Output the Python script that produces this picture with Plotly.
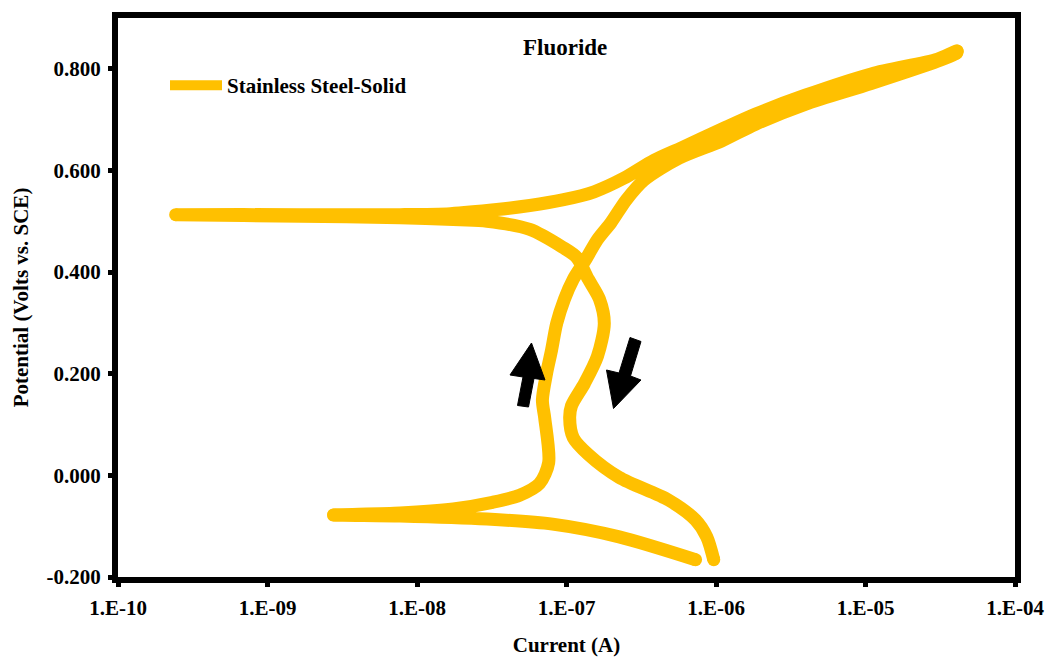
import plotly.graph_objects as go

# ---- data ----
fwd_current = [7.3e-7, 2.25e-7, 8.07e-8, 2.94e-8, 7.7e-9, 2.77e-9, 7.7e-9, 1.75e-8, 3.2e-8,
               4.86e-8, 6.6e-8, 7.6e-8, 7.15e-8, 6.9e-8, 7.36e-8, 7.94e-8, 8.6e-8, 9.7e-8,
               1.11e-7, 1.32e-7, 1.61e-7, 1.99e-7, 2.51e-7, 3.30e-7, 5.65e-7, 1.09e-6,
               1.84e-6, 3.95e-6, 1.09e-5, 3.03e-5, 4.06e-5]
fwd_potential = [-0.166, -0.121, -0.096, -0.086, -0.080, -0.078, -0.074, -0.066, -0.053,
                 -0.039, -0.016, 0.025, 0.113, 0.148, 0.201, 0.246, 0.299, 0.347,
                 0.386, 0.421, 0.464, 0.498, 0.542, 0.581, 0.624, 0.658,
                 0.691, 0.730, 0.771, 0.815, 0.831]

rev_current = [4.1e-5, 3.03e-5, 1.09e-5, 3.95e-6, 1.84e-6, 1.09e-6, 5.92e-7, 3.85e-7, 2.43e-7,
               1.53e-7, 9.4e-8, 5.68e-8, 3.42e-8, 1.67e-8, 7.7e-9, 1.67e-9, 2.43e-10, 1.67e-9,
               7.7e-9, 1.94e-8, 2.94e-8, 5.68e-8, 9.4e-8, 1.17e-7, 1.40e-7, 1.66e-7, 1.79e-7,
               1.61e-7, 1.32e-7, 1.08e-7, 1.05e-7, 1.11e-7, 1.40e-7, 2.25e-7, 4.84e-7, 7.3e-7,
               8.67e-7, 9.66e-7]
rev_potential = [0.835, 0.819, 0.790, 0.748, 0.711, 0.681, 0.645, 0.620, 0.585,
                 0.558, 0.542, 0.531, 0.523, 0.515, 0.513, 0.513, 0.513, 0.510,
                 0.507, 0.503, 0.500, 0.484, 0.449, 0.429, 0.386, 0.347, 0.299,
                 0.234, 0.181, 0.137, 0.113, 0.074, 0.041, -0.004, -0.049, -0.088,
                 -0.121, -0.166]

x_tickvals = [1e-10, 1e-9, 1e-8, 1e-7, 1e-6, 1e-5, 1e-4]
x_ticktext = ["1.E-10", "1.E-09", "1.E-08", "1.E-07", "1.E-06", "1.E-05", "1.E-04"]
y_tickvals = [-0.2, 0.0, 0.2, 0.4, 0.6, 0.8]
y_ticktext = ["-0.200", "0.000", "0.200", "0.400", "0.600", "0.800"]

GOLD = "#FFC000"
FONT = "Liberation Serif"

W, H = 1049, 657
ML, MR, MT, MB = 118, 34, 18, 80

current = fwd_current + rev_current
potential = fwd_potential + rev_potential

fig = go.Figure()
fig.add_trace(go.Scatter(x=current, y=potential, mode="lines",
                         line=dict(color=GOLD, width=13, shape="spline", smoothing=0.8),
                         name="Stainless Steel-Solid"))
# round caps at the turning points
nf = len(fwd_current)
tip_idx = [0, 5, nf - 1, nf, nf + 16, len(current) - 1]
fig.add_trace(go.Scatter(x=[current[i] for i in tip_idx], y=[potential[i] for i in tip_idx],
                         mode="markers", marker=dict(color=GOLD, size=13), showlegend=False,
                         hoverinfo="skip"))

pw, ph = W - ML - MR, H - MT - MB


def to_paper(pts):
    return [((x - ML) / pw, (H - MB - y) / ph) for x, y in pts]


def path_of(pts):
    p = to_paper(pts)
    return "M " + " L ".join(f"{a:.5f},{b:.5f}" for a, b in p) + " Z"


up_arrow = [(531.5, 343), (545, 380), (534, 378.5), (528.5, 407), (517.5, 405.5), (523, 377), (510, 375)]
down_arrow = [(630, 337.5), (641, 341.5), (630.5, 376), (641, 380), (613.5, 408.5), (606.5, 370), (619, 373)]
shapes = []
for arr in (up_arrow, down_arrow):
    shapes.append(dict(type="path", xref="paper", yref="paper", path=path_of(arr),
                       fillcolor="black", line=dict(color="black", width=1)))

fig.update_layout(
    width=W, height=H,
    margin=dict(l=ML, r=MR, t=MT, b=MB, autoexpand=False),
    paper_bgcolor="white", plot_bgcolor="white",
    font=dict(family=FONT, color="black", size=21),
    shapes=shapes,
    showlegend=True,
    legend=dict(x=(165 - ML) / pw, y=(H - MB - 65) / ph, xanchor="left", yanchor="top",
                bgcolor="rgba(0,0,0,0)", itemwidth=52,
                font=dict(family=FONT, size=21, color="black", weight="bold")),
    annotations=[dict(text="Fluoride", x=(565 - ML) / pw, y=(H - MB - 47) / ph,
                      xref="paper", yref="paper", showarrow=False,
                      xanchor="center", yanchor="middle",
                      font=dict(family=FONT, size=23, color="black", weight="bold"))],
    xaxis=dict(type="log", range=[-10, -4], tickvals=x_tickvals, ticktext=x_ticktext,
               automargin=False, ticklabelstandoff=3,
               showgrid=False, zeroline=False, showline=True, linecolor="black", linewidth=6,
               mirror=True, ticks="outside", ticklen=4, tickwidth=5, tickcolor="black",
               tickfont=dict(family=FONT, size=21, color="black", weight="bold"),
               title=dict(text="Current (A)", standoff=23,
                          font=dict(family=FONT, size=21, color="black", weight="bold"))),
    yaxis=dict(range=[-0.2, 0.9], tickvals=y_tickvals, ticktext=y_ticktext,
               automargin=False, ticklabelstandoff=3,
               showgrid=False, zeroline=False, showline=True, linecolor="black", linewidth=6,
               mirror=True, ticks="outside", ticklen=4, tickwidth=5, tickcolor="black",
               tickfont=dict(family=FONT, size=21, color="black", weight="bold"),
               title=dict(text="Potential (Volts vs. SCE)", standoff=14,
                          font=dict(family=FONT, size=21, color="black", weight="bold"))),
)

fig.write_html("out.html")
